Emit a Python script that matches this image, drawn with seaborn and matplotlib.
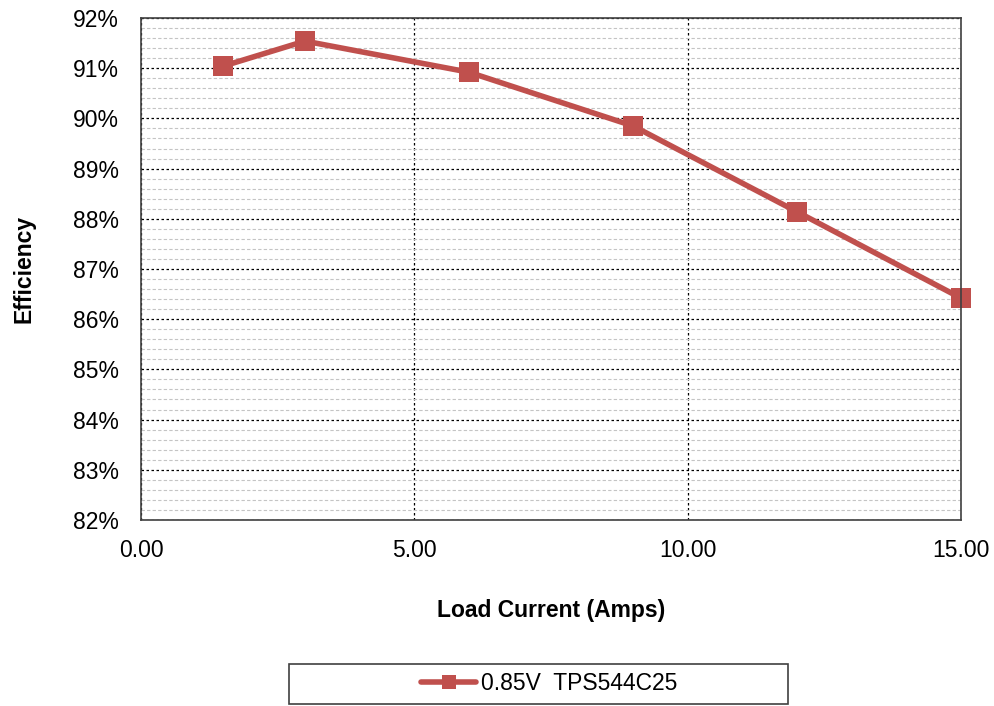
import numpy as np
import pandas as pd
import seaborn as sns
import matplotlib.pyplot as plt
from matplotlib.patches import Rectangle
from matplotlib.ticker import MultipleLocator, FuncFormatter

load_current = [1.5, 3.0, 6.0, 9.0, 12.0, 15.0]
efficiency = [91.04, 91.54, 90.92, 89.85, 88.14, 86.42]
series_name = "0.85V  TPS544C25"

df = pd.DataFrame({"Load Current": load_current, "Efficiency": efficiency, "series": series_name})

sns.set_style("white")
plt.rcParams["font.family"] = ["Liberation Sans", "DejaVu Sans"]
plt.rcParams["text.color"] = "black"
fs = 16.5

fig = plt.figure(figsize=(9.95, 7.06), dpi=100)
ax = fig.add_axes([0.1417, 0.2635, 0.8241, 0.711])

sns.lineplot(data=df, x="Load Current", y="Efficiency", hue="series", palette=["#C0504D"],
             marker="s", markersize=15, linewidth=4.0, markeredgewidth=0, ax=ax, legend=True)
for ln in ax.lines:
    ln.set_clip_on(False)

ax.set_xlim(0, 15)
ax.set_ylim(82, 92)
ax.xaxis.set_major_locator(MultipleLocator(5))
ax.yaxis.set_major_locator(MultipleLocator(1))
ax.yaxis.set_minor_locator(MultipleLocator(0.2))
ax.xaxis.set_major_formatter(FuncFormatter(lambda v, p: f"{v:.2f}"))
ax.yaxis.set_major_formatter(FuncFormatter(lambda v, p: f"{v:.0f}%"))

ax.grid(which="major", axis="both", color="black", linestyle=(0, (2, 2)), linewidth=0.9)
ax.grid(which="minor", axis="y", color="#C4C4C4", linestyle=(0, (3, 2)), linewidth=0.8)
ax.set_axisbelow(True)
ax.tick_params(axis="both", which="both", length=0, labelsize=fs, labelcolor="black")
ax.tick_params(axis="x", pad=14)
ax.tick_params(axis="y", pad=16)
for s in ax.spines.values():
    s.set_color("#404040")
    s.set_linewidth(1.2)

ax.set_xlabel("Load Current (Amps)", fontsize=fs, fontweight="bold", labelpad=26, color="black")
ax.set_ylabel("Efficiency", fontsize=fs, fontweight="bold", labelpad=27, color="black")

handles, labels = ax.get_legend_handles_labels()
ax.legend_.remove()
fig.add_artist(Rectangle((289 / 995, 2 / 706), 499 / 995, 40 / 706, transform=fig.transFigure,
                         fill=False, edgecolor="#404040", linewidth=1.2))
leg = fig.legend(handles, labels, loc="center", bbox_to_anchor=(549 / 995, 0.0312),
                 frameon=False, fontsize=fs, handlelength=2.4, handletextpad=0.2, borderaxespad=0)
for h in leg.legend_handles:
    h.set_markersize(10)

fig.savefig("out.png", dpi=100)
